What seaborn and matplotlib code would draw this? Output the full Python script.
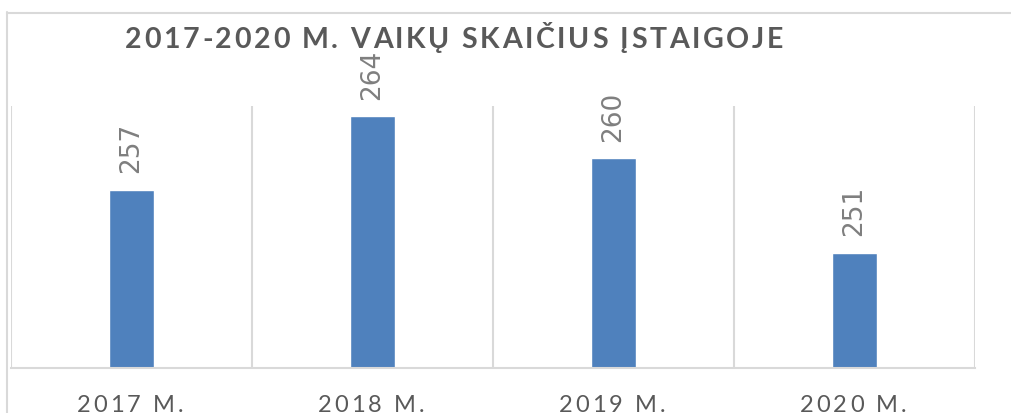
import pandas as pd
import seaborn as sns
import matplotlib.pyplot as plt
from matplotlib.lines import Line2D

sns.set_theme(style='white')

years = ['2017 M.', '2018 M.', '2019 M.', '2020 M.']
children = [257, 264, 260, 251]
title = '2017-2020 M. VAIKŲ SKAIČIUS ĮSTAIGOJE'

df = pd.DataFrame({'year': years, 'children': children})

W, H = 1012, 414
fig = plt.figure(figsize=(W / 100, H / 100), dpi=100)
ax = fig.add_axes([11 / W, (H - 369) / H, (975 - 11) / W, (369 - 107) / H])
renderer = fig.canvas.get_renderer()


def text_width(s, **kw):
    t = fig.text(0, 0, s, **kw)
    w = t.get_window_extent(renderer).width
    t.remove()
    return w


def spaced_text(x_px, y_px, s, total_w, ha='left', **kw):
    # draw letter-spaced text (Excel style) char by char, in pixels from top-left
    natural = text_width(s, **kw)
    sp = (total_w - natural) / (len(s) - 1)
    bar = text_width('|', **kw)
    x0 = x_px - total_w / 2 if ha == 'center' else x_px
    for i, ch in enumerate(s):
        off = text_width(s[:i] + '|', **kw) - bar + i * sp
        fig.text((x0 + off) / W, (H - y_px) / H, ch, ha='left', va='baseline', **kw)


sns.barplot(data=df, x='year', y='children', color='#4F81BD', saturation=1,
            width=0.183, ax=ax)

ax.set_xlim(-0.5, 3.5)
ax.set_ylim(240, 265)
ax.set_xlabel(None)
ax.set_ylabel(None)
ax.set_yticks([])
ax.set_xticks([])
for side in ['top', 'right', 'left']:
    ax.spines[side].set_visible(False)
ax.spines['bottom'].set_color('#D9D9D9')
ax.spines['bottom'].set_linewidth(1.5)

# vertical gridlines between categories
for xv in [-0.5, 0.5, 1.5, 2.5, 3.5]:
    ax.axvline(xv, color='#D9D9D9', lw=1.5, zorder=0)

ax.bar_label(ax.containers[0], rotation=90, padding=12.5, fontsize=19,
             color='#7F7F7F', family=['Liberation Sans Narrow', 'DejaVu Sans'])

# spaced category labels
lab_kw = dict(fontsize=17, color='#595959', family=['Lato', 'DejaVu Sans'])
for i, lab in enumerate(years):
    xc = ax.transData.transform((i, 0))[0]
    spaced_text(xc - 1.5, 412, lab, 107, ha='center', **lab_kw)

spaced_text(125, 48, title, 658, fontsize=20.5, fontweight='bold', color='#595959',
            family=['Lato', 'DejaVu Sans'])

# chart border
fig.add_artist(Line2D([7.5 / W, 7.5 / W], [0, (H - 13) / H], color='#D9D9D9', lw=1.5))
fig.add_artist(Line2D([7 / W, 1], [(H - 13.5) / H, (H - 13.5) / H], color='#D9D9D9', lw=1.5))

plt.savefig('out.png', dpi=100)
